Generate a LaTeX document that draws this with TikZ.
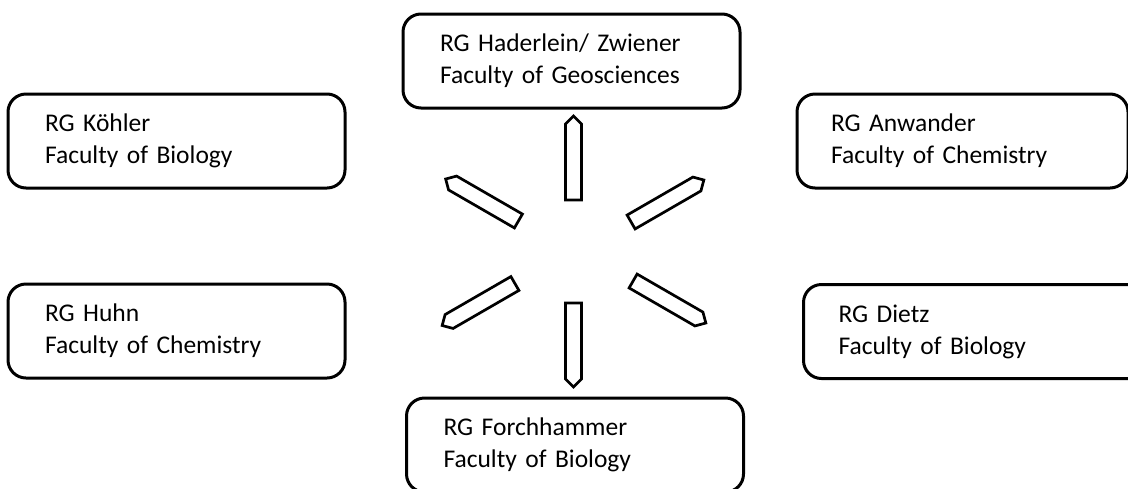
\documentclass[tikz,border=0pt]{standalone}
\usepackage{fontspec}
\setmainfont{Carlito}
\usetikzlibrary{shapes.arrows}

\begin{document}
\begin{tikzpicture}[x=0.5pt,y=-0.5pt,
font=\fontsize{12.75}{16}\selectfont,
grp/.style={draw,line width=1.5pt,rounded corners=9pt,align=left,text width=131.5pt,inner xsep=18.5pt,inner ysep=0pt,minimum height=47pt},
blk/.style={draw,single arrow,single arrow head extend=0pt,single arrow tip angle=90,minimum height=42pt,minimum width=8pt,inner sep=0pt,line width=1.35pt}]
\clip (0,0) rectangle (1128,488);
% research groups
\node[grp] (hz) at (571.5,61) {RG Haderlein/ Zwiener\\Faculty of Geosciences};
\node[grp] (koehler) at (176.5,141) {RG Köhler\\Faculty of Biology};
\node[grp,inner xsep=17pt] (anwander) at (962.5,141) {RG Anwander\\Faculty of Chemistry};
\node[grp] (huhn) at (176.5,331) {RG Huhn\\Faculty of Chemistry};
\node[grp,inner xsep=17.5pt,text width=142pt] (dietz) at (980.5,331.5) {RG Dietz\\Faculty of Biology};
\node[grp] (forch) at (575,445) {RG Forchhammer\\Faculty of Biology};
% arrows
\node[blk,rotate=90] (up) at (573.5,162) {};
\node[blk,rotate=270] (down) at (573.5,341) {};
\node[blk,rotate=150] (upleft) at (485.5,202) {};
\node[blk,rotate=30] (upright) at (664,203) {};
\node[blk,rotate=210] (lowleft) at (482,302.5) {};
\node[blk,rotate=330] (lowright) at (666,300) {};
\end{tikzpicture}
\end{document}
